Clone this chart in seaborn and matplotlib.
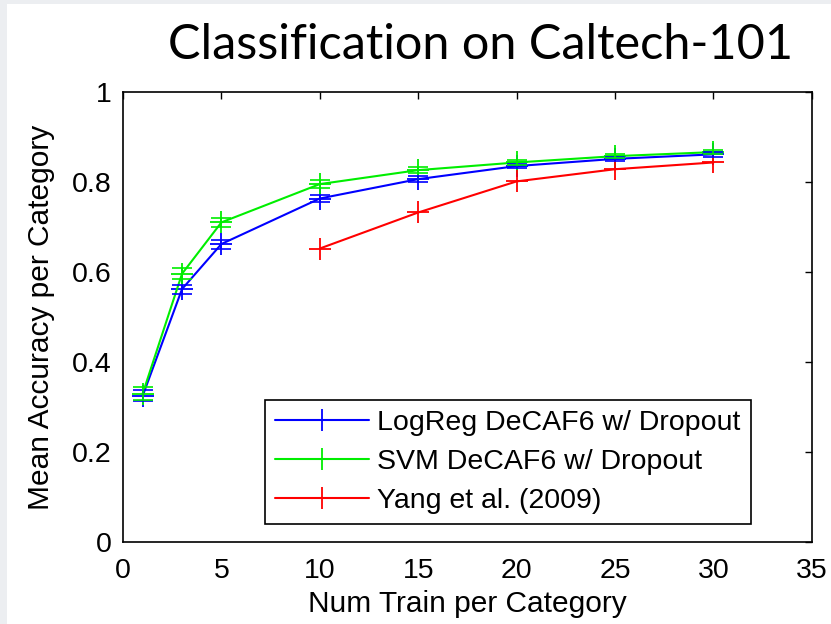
import matplotlib
matplotlib.use("Agg")
import matplotlib.pyplot as plt
import seaborn as sns
import pandas as pd
import numpy as np

# Data
x_train = [1, 3, 5, 10, 15, 20, 25, 30]
logreg_mean = [0.325, 0.562, 0.662, 0.763, 0.806, 0.835, 0.851, 0.861]
logreg_std = [0.012, 0.010, 0.010, 0.008, 0.006, 0.005, 0.005, 0.005]
svm_mean = [0.330, 0.596, 0.710, 0.795, 0.826, 0.843, 0.857, 0.866]
svm_std = [0.015, 0.012, 0.010, 0.008, 0.006, 0.005, 0.005, 0.005]
yang_x = [10, 15, 20, 25, 30]
yang_mean = [0.652, 0.732, 0.801, 0.828, 0.843]
series_names = ["LogReg DeCAF6 w/ Dropout", "SVM DeCAF6 w/ Dropout", "Yang et al. (2009)"]
xticks = [0, 5, 10, 15, 20, 25, 30, 35]
yticks = [0, 0.2, 0.4, 0.6, 0.8, 1.0]
ytick_labels = ["0", "0.2", "0.4", "0.6", "0.8", "1"]

colors = ["#0000ff", "#00ee00", "#ff0000"]

df = pd.concat([
    pd.DataFrame({"x": x_train, "y": logreg_mean, "s": series_names[0]}),
    pd.DataFrame({"x": x_train, "y": svm_mean, "s": series_names[1]}),
    pd.DataFrame({"x": yang_x, "y": yang_mean, "s": series_names[2]}),
])

sns.set_style("white")
plt.rcParams["font.family"] = ["Liberation Sans", "DejaVu Sans"]
plt.rcParams["text.color"] = "black"
plt.rcParams["axes.labelcolor"] = "black"

fig = plt.figure(figsize=(8.31, 6.24), dpi=100)
fig.patch.set_facecolor("#eceef1")
# white slide area
fig.add_artist(plt.Rectangle((7 / 831, 0), 1, 1 - 4 / 624, transform=fig.transFigure,
                             facecolor="white", edgecolor="none", zorder=0))
ax = fig.add_axes([0.148, 0.131, 0.829, 0.722])

sns.lineplot(data=df, x="x", y="y", hue="s", palette=colors, marker="+",
             markersize=16, markeredgewidth=1.3, linewidth=1.5, ax=ax,
             legend=True, dashes=False)
for ln in ax.lines:
    ln.set_markeredgecolor(ln.get_color())
ax.errorbar(x_train, logreg_mean, yerr=logreg_std, fmt="none", ecolor=colors[0],
            elinewidth=1.2, capsize=7, capthick=1.2)
ax.errorbar(x_train, svm_mean, yerr=svm_std, fmt="none", ecolor=colors[1],
            elinewidth=1.2, capsize=7, capthick=1.2)

ax.set_xlim(0, 35)
ax.set_ylim(0, 1)
ax.set_xticks(xticks)
ax.set_yticks(yticks)
ax.set_yticklabels(ytick_labels)
ax.tick_params(direction="in", length=5, width=1, top=True, right=True,
               labelsize=20.5, colors="black")
ax.tick_params(axis="x", pad=11)
ax.tick_params(axis="y", pad=8)
for sp in ax.spines.values():
    sp.set_visible(True)
    sp.set_color("black")
    sp.set_linewidth(1.2)
ax.set_xlabel("Num Train per Category", fontsize=21.5, labelpad=5)
ax.set_ylabel("Mean Accuracy per Category", fontsize=21.5, labelpad=12)

leg = ax.legend(loc="lower right", fontsize=20.5, frameon=True, fancybox=False,
                edgecolor="black", framealpha=1, borderpad=0.35, labelspacing=0.45,
                handlelength=3.3, handletextpad=0.3, bbox_to_anchor=(0.932, 0.01))
leg.get_frame().set_linewidth(1.2)
for t in leg.get_texts():
    t.set_color("black")
for h in leg.legend_handles:
    h.set_markersize(16)
    h.set_markeredgecolor(h.get_color())

fig.text(0.578, 0.905, "Classification on Caltech-101", fontsize=35,
         family=["Lato", "DejaVu Sans"], ha="center", va="baseline", color="black")

fig.savefig("out.png", dpi=100)
